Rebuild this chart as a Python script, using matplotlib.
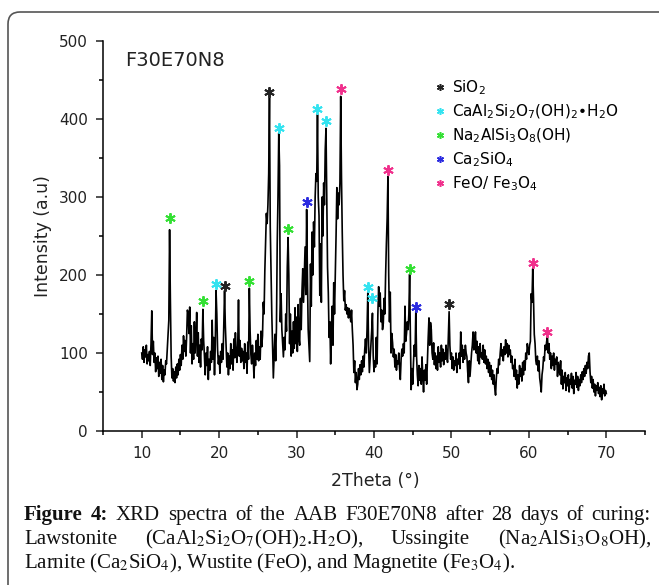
"""
XRD spectrum of AAB F30E70N8 (28 days) with phase markers and figure caption
"""

import matplotlib
matplotlib.use("Agg")
import matplotlib.pyplot as plt
import numpy as np
from matplotlib.lines import Line2D
from matplotlib.patches import FancyBboxPatch
from matplotlib.transforms import IdentityTransform

plt.rcParams['font.family'] = ['DejaVu Sans']
plt.rcParams['mathtext.fontset'] = 'dejavusans'

# scan: 10-70 deg 2theta, 0.1 deg step (counts)
scan_start = 10.0
scan_step = 0.1
counts = [
    100, 92, 108, 88, 104, 95, 110, 86, 98, 90,        # 10
    102, 84, 112, 154, 98, 115, 88, 100, 76, 94,       # 11
    80, 96, 70, 88, 74, 92, 66, 84, 63, 78,            # 12
    72, 90, 86, 104, 120, 142, 258, 170, 96, 68,       # 13
    80, 64, 76, 62, 82, 68, 86, 72, 92, 78,            # 14
    98, 84, 110, 92, 122, 102, 116, 96, 120, 155,      # 15
    150, 125, 159, 100, 135, 86, 112, 92, 140, 100,    # 16
    118, 152, 96, 126, 88, 110, 82, 118, 104, 156,     # 17
    116, 96, 72, 100, 84, 108, 66, 92, 78, 102,        # 18
    88, 142, 92, 120, 72, 110, 180, 150, 104, 86,      # 19
    96, 74, 102, 88, 112, 92, 135, 180, 135, 110,      # 20
    82, 100, 72, 96, 80, 112, 86, 104, 78, 118,        # 21
    94, 126, 100, 88, 110, 168, 96, 116, 88, 106,      # 22
    90, 102, 80, 112, 88, 100, 74, 114, 92, 183,       # 23
    128, 98, 86, 110, 94, 68, 100, 84, 116, 92,        # 24
    124, 90, 108, 92, 128, 108, 122, 165, 150, 205,    # 25
    240, 279, 266, 290, 330, 428, 262, 205, 150, 110,  # 26
    68, 96, 124, 90, 132, 240, 300, 382, 340, 140,     # 27
    176, 130, 112, 95, 120, 104, 150, 128, 210, 248,   # 28
    200, 112, 150, 96, 128, 100, 140, 106, 158, 112,   # 29
    146, 102, 162, 120, 110, 170, 130, 180, 208, 165,  # 30
    200, 236, 175, 284, 200, 130, 110, 89, 214, 160,   # 31
    255, 200, 268, 236, 300, 330, 320, 406, 300, 276,  # 32
    174, 240, 165, 300, 250, 318, 290, 360, 388, 300,  # 33
    210, 177, 120, 140, 86, 130, 160, 110, 190, 150,   # 34
    200, 250, 312, 272, 305, 290, 318, 429, 326, 254,  # 35
    200, 167, 180, 155, 162, 150, 158, 145, 157, 148,  # 36
    140, 155, 130, 110, 75, 90, 62, 75, 53, 60,        # 37
    80, 66, 85, 72, 90, 76, 96, 82, 104, 118,          # 38
    100, 130, 177, 110, 75, 92, 110, 128, 151, 96,     # 39
    76, 90, 82, 120, 86, 150, 185, 160, 177, 140,      # 40
    155, 130, 138, 170, 150, 200, 240, 273, 326, 200,  # 41
    140, 178, 100, 125, 113, 95, 105, 82, 98, 78,      # 42
    90, 86, 100, 80, 66, 92, 105, 96, 112, 100,        # 43
    160, 115, 125, 140, 130, 150, 201, 120, 53, 80,    # 44
    60, 88, 110, 96, 154, 95, 72, 58, 84, 65,          # 45
    80, 60, 95, 70, 50, 78, 65, 85, 60, 90,            # 46
    120, 145, 110, 139, 130, 100, 92, 113, 85, 100,    # 47
    80, 96, 78, 108, 88, 100, 82, 110, 90, 105,        # 48
    85, 100, 92, 110, 95, 88, 120, 153, 110, 92,       # 49
    100, 80, 95, 78, 90, 84, 100, 75, 92, 86,          # 50
    100, 80, 127, 96, 110, 88, 104, 92, 110, 100,      # 51
    95, 76, 62, 90, 70, 85, 100, 110, 127, 104,        # 52
    112, 127, 100, 115, 90, 108, 86, 112, 95, 100,     # 53
    92, 110, 88, 104, 86, 96, 80, 92, 75, 88,          # 54
    70, 84, 66, 78, 60, 72, 55, 46, 68, 80,            # 55
    74, 92, 85, 100, 112, 96, 104, 90, 108, 98,        # 56
    117, 100, 112, 95, 110, 98, 104, 88, 96, 80,       # 57
    84, 70, 92, 66, 78, 55, 72, 60, 84, 70,            # 58
    80, 64, 88, 72, 90, 78, 100, 92, 112, 104,         # 59
    98, 110, 115, 176, 165, 208, 170, 124, 112, 90,    # 60
    85, 96, 77, 90, 68, 60, 50, 72, 80, 95,            # 61
    90, 110, 104, 115, 121, 100, 112, 92, 100, 80,     # 62
    96, 84, 100, 78, 92, 86, 95, 70, 88, 80,           # 63
    72, 90, 60, 78, 54, 70, 62, 75, 52, 68,            # 64
    58, 72, 50, 66, 60, 74, 55, 70, 48, 65,            # 65
    60, 75, 56, 70, 52, 66, 58, 72, 62, 76,            # 66
    66, 80, 70, 84, 74, 88, 80, 96, 100, 76,           # 67
    62, 70, 55, 66, 50, 60, 45, 58, 52, 62,            # 68
    48, 56, 44, 58, 40, 54, 48, 60, 45, 52,            # 69
    48,                                                # 70
]
two_theta = scan_start + scan_step * np.arange(len(counts))

# identified phases
phase_labels = [r'SiO$_2$',
                r'CaAl$_2$Si$_2$O$_7$(OH)$_2$•H$_2$O',
                r'Na$_2$AlSi$_3$O$_8$(OH)',
                r'Ca$_2$SiO$_4$',
                r'FeO/ Fe$_3$O$_4$']
phase_colors = ['#222222', '#33e3f0', '#33e033', '#2b2be0', '#f0308c']

# peak markers: position, height of the star, phase index
star_theta = [13.65, 17.9, 19.55, 20.7, 23.9, 26.45, 27.7, 28.9, 31.3, 32.7,
              33.8, 35.7, 39.2, 39.8, 41.8, 44.6, 45.4, 49.7, 60.5, 62.4]
star_height = [273, 167, 188, 186, 192, 434, 388, 259, 293, 413,
               398, 438, 185, 170, 335, 208, 159, 163, 215, 127]
star_phase = [2, 2, 1, 0, 2, 0, 1, 2, 3, 1,
              1, 4, 1, 1, 4, 2, 3, 0, 4, 4]

caption_line1 = [("Figure", 'bold'), ("4:", 'bold'), ("XRD", 'normal'), ("spectra", 'normal'),
                 ("of", 'normal'), ("the", 'normal'), ("AAB", 'normal'), ("F30E70N8", 'normal'),
                 ("after", 'normal'), ("28", 'normal'), ("days", 'normal'), ("of", 'normal'),
                 ("curing:", 'normal')]
caption_line2 = [("Lawstonite", 'normal'),
                 (r"(CaAl$_2$Si$_2$O$_7$(OH)$_2$.H$_2$O),", 'normal'),
                 ("Ussingite", 'normal'),
                 (r"(Na$_2$AlSi$_3$O$_8$OH),", 'normal')]
caption_line3 = r"Larnite (Ca$_2$SiO$_4$), Wustite (FeO), and Magnetite (Fe$_3$O$_4$)."

W, H = 659, 585
fig = plt.figure(figsize=(W / 100, H / 100), dpi=100)
ax = fig.add_axes([103 / W, 1 - 431 / H, 542 / W, 390 / H])

ax.plot(two_theta, counts, color='black', linewidth=1.2)

for k, color in enumerate(phase_colors):
    xs = [x for x, p in zip(star_theta, star_phase) if p == k]
    ys = [y for y, p in zip(star_height, star_phase) if p == k]
    ax.plot(xs, ys, ls='none', marker=(6, 2, 0), color=color,
            markersize=7.5, markeredgewidth=1.4)

ax.set_xlim(5, 75)
ax.set_ylim(0, 500)
ax.set_xticks([10, 20, 30, 40, 50, 60, 70])
ax.set_xticks([5, 15, 25, 35, 45, 55, 65, 75], minor=True)
ax.set_yticks([0, 100, 200, 300, 400, 500])
ax.set_yticks([50, 150, 250, 350, 450], minor=True)
for s in ['top', 'right']:
    ax.spines[s].set_visible(False)
for s in ['left', 'bottom']:
    ax.spines[s].set_linewidth(1.1)
ax.tick_params(which='major', direction='out', length=5, width=1.1,
               labelsize=11, pad=6, colors='#222222')
ax.tick_params(which='minor', direction='out', length=3.2, width=1.1)

ax.set_xlabel('2Theta (°)', fontsize=12.5, color='#222222')
ax.set_ylabel('Intensity (a.u)', fontsize=12.5, color='#222222')
ax.xaxis.set_label_coords(0.503, -0.105)
ax.yaxis.set_label_coords(-0.094, 0.5)

ax.text(0.04, 0.949, 'F30E70N8', transform=ax.transAxes, fontsize=14,
        va='center', ha='left', color='#222222')

handles = [Line2D([], [], ls='none', marker=(6, 2, 0), color=c,
                  markersize=5, markeredgewidth=1.1) for c in phase_colors]
ax.legend(handles, phase_labels, loc='upper left', bbox_to_anchor=(0.612, 0.905),
          frameon=False, fontsize=11, handlelength=0.7, handletextpad=0.45,
          labelspacing=0.36, borderpad=0, borderaxespad=0)

# frame around figure + caption
frame = FancyBboxPatch((8, -12), 720, H - 12 + 12, boxstyle='round,pad=0,rounding_size=12',
                       transform=IdentityTransform(), fill=False,
                       edgecolor='#555555', linewidth=1.2)
fig.add_artist(frame)

renderer = fig.canvas.get_renderer()
cap_kw = dict(family='Liberation Serif', fontsize=15, color='#111111',
              math_fontfamily='stix', va='baseline', ha='left',
              transform=IdentityTransform())


def justify(words, y, x0, x1):
    texts = [fig.text(0, y, w, fontweight=wt, **cap_kw) for w, wt in words]
    widths = [t.get_window_extent(renderer).width for t in texts]
    gap = (x1 - x0 - sum(widths)) / (len(words) - 1)
    x = x0
    for t, w in zip(texts, widths):
        t.set_x(x)
        x += w + gap


justify(caption_line1, H - 520, 24, 651)
justify(caption_line2, H - 544, 24, 651)
fig.text(24, H - 568, caption_line3, **cap_kw)

fig.savefig('out.png', dpi=100)
